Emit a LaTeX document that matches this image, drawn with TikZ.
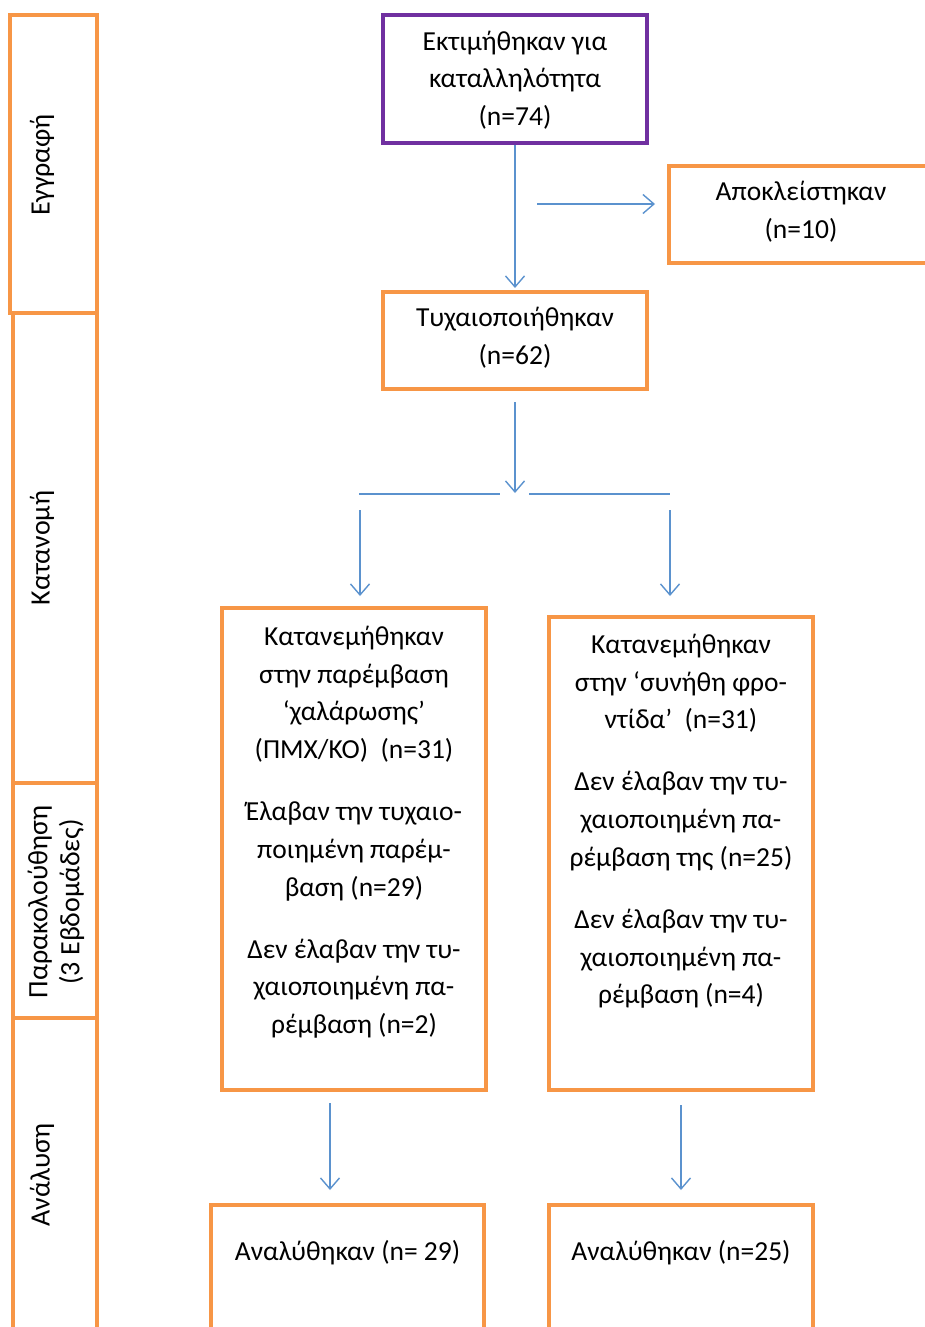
\documentclass[tikz,border=0pt]{standalone}
\usepackage{fontspec}
\setmainfont{Carlito}
\usetikzlibrary{arrows.meta,calc}
\definecolor{boxorange}{HTML}{F79646}
\definecolor{boxpurple}{HTML}{7030A0}
\definecolor{arrowblue}{HTML}{5B92CE}
\tikzset{
  obox/.style={draw=boxorange,line width=4pt,rectangle,inner sep=0pt},
  pbox/.style={draw=boxpurple,line width=4pt,rectangle,inner sep=0pt},
  strip/.style={draw=boxorange,line width=4pt,rectangle,inner sep=0pt},
  txt/.style={align=center,inner sep=0pt,font=\fontsize{27.5}{37.7}\selectfont,text=black},
  vtxt/.style={align=center,inner sep=0pt,rotate=90,font=\fontsize{28}{32}\selectfont,text=black},
  arr/.style={draw=arrowblue,line width=1.4pt,-{Straight Barb[length=11pt,width=19pt,line width=1.4pt]}},
  ln/.style={draw=arrowblue,line width=1.4pt}
}
\begin{document}
\begin{tikzpicture}[x=1pt,y=-1pt]
\clip (0,0) rectangle (925,1327);
% left column strips
\node[strip,minimum width=87pt,minimum height=298pt] (S1) at (53.5,164) {};
\node[strip,minimum width=84pt,minimum height=470pt] (S2) at (55,548) {};
\node[strip,minimum width=84pt,minimum height=235pt] (S3) at (55,900.5) {};
\node[strip,minimum width=84pt,minimum height=330pt] (S4) at (55,1183) {};
\node[vtxt] (S1t) at (42,165) {Εγγραφή};
\node[vtxt] (S2t) at (42,548) {Κατανομή};
\node[vtxt] (S3t) at (56,902) {Παρακολούθηση\\(3 Εβδομάδες)};
\node[vtxt] (S4t) at (42,1175) {Ανάλυση};
% main boxes
\node[pbox,minimum width=264pt,minimum height=128pt] (E) at (515,79) {};
\node[obox,minimum width=264pt,minimum height=97pt] (A) at (801,214.5) {};
\node[obox,minimum width=264pt,minimum height=97pt] (T) at (515,340.5) {};
\node[obox,minimum width=264pt,minimum height=482pt] (L) at (354,849) {};
\node[obox,minimum width=264pt,minimum height=473pt] (R) at (681,853.5) {};
\node[obox,minimum width=273pt,minimum height=140pt] (LA) at (347.5,1275) {};
\node[obox,minimum width=264pt,minimum height=140pt] (RA) at (681,1275) {};
% texts
\node[txt] (Et) at ([yshift=-1pt]E.center) {Εκτιμήθηκαν για\\καταλληλότητα\\(n=74)};
\node[txt] (At) at ([yshift=3pt]A.center) {Αποκλείστηκαν\\(n=10)};
\node[txt] (Tt) at ([yshift=3pt]T.center) {Τυχαιοποιήθηκαν\\(n=62)};
\node[txt,anchor=north] (Lt) at ([yshift=-20pt]L.north) {Κατανεμήθηκαν\\στην παρέμβαση\\‘χαλάρωσης’\\(ΠΜΧ/ΚΟ)\ \ (n=31)\\[24.3pt]Έλαβαν την τυχαιο-\\ποιημένη παρέμ-\\βαση (n=29)\\[24.3pt]Δεν έλαβαν την τυ-\\χαιοποιημένη πα-\\ρέμβαση (n=2)};
\node[txt,anchor=north] (Rt) at ([yshift=-19pt]R.north) {Κατανεμήθηκαν\\στην ‘συνήθη φρο-\\ντίδα’\ \ (n=31)\\[24.3pt]Δεν έλαβαν την τυ-\\χαιοποιημένη πα-\\ρέμβαση της (n=25)\\[24.3pt]Δεν έλαβαν την τυ-\\χαιοποιημένη πα-\\ρέμβαση (n=4)};
\node[txt,anchor=north] (LAt) at ([yshift=-37pt]LA.north) {Αναλύθηκαν (n= 29)};
\node[txt,anchor=north] (RAt) at ([yshift=-37pt]RA.north) {Αναλύθηκαν (n=25)};
% connectors
\draw[arr,shorten >=2pt] (E.south) -- (T.north);
\coordinate (x1) at (537,204);
\draw[arr,shorten >=12pt] (x1) -- (x1 -| A.west);
\coordinate (br) at (515,493);
\draw[arr] ([yshift=-11pt]T.south) -- (br);
\coordinate (bl1) at (359,494);
\coordinate (bl2) at (500,494);
\coordinate (br1) at (529,494);
\coordinate (br2) at (670,494);
\draw[ln] (bl1) -- (bl2);
\draw[ln] (br1) -- (br2);
\coordinate (ls) at (360,510);
\coordinate (rs) at (670,510);
\draw[arr,shorten >=10pt] (ls) -- (ls |- L.north);
\draw[arr,shorten >=19pt] (rs) -- (rs |- R.north);
\coordinate (la) at (330,1103);
\draw[arr,shorten >=13pt] (la) -- (la |- LA.north);
\draw[arr,shorten >=13pt] ([yshift=-13pt]R.south) -- (RA.north);
\end{tikzpicture}
\end{document}
